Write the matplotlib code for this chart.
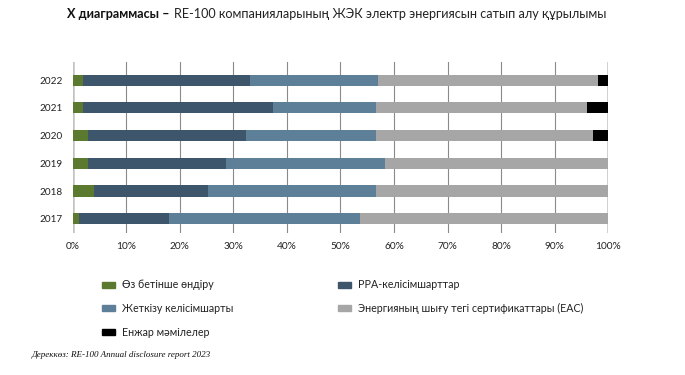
import matplotlib
matplotlib.use("Agg")
import matplotlib.pyplot as plt
from matplotlib.patches import Patch
import numpy as np

years = ["2017", "2018", "2019", "2020", "2021", "2022"]
own_gen = [1.1, 4.0, 2.8, 2.9, 1.9, 1.9]
ppa = [16.9, 21.2, 25.9, 29.5, 35.6, 31.3]
supply = [35.6, 31.4, 29.7, 24.2, 19.1, 23.9]
eac = [46.4, 43.4, 41.6, 40.6, 39.4, 41.0]
unbundled = [0.0, 0.0, 0.0, 2.8, 4.0, 1.9]

series_names = ["Өз бетінше өндіру", "PPA-келісімшарттар", "Жеткізу келісімшарты",
                "Энергияның шығу тегі сертификаттары (EAC)", "Енжар мәмілелер"]
colors = ["#5b7a2f", "#3e566b", "#5d7f98", "#a6a6a6", "#000000"]
x_ticks = [0, 10, 20, 30, 40, 50, 60, 70, 80, 90, 100]

plt.rcParams['font.family'] = ['Lato', 'DejaVu Sans']
fig = plt.figure(figsize=(6.85, 3.75), dpi=100)
ax = fig.add_axes([0.106, 0.379, 0.782, 0.456])

ypos = np.arange(len(years))
left = np.zeros(len(years))
data = [own_gen, ppa, supply, eac, unbundled]
for vals, c in zip(data, colors):
    vals = np.array(vals)
    ax.barh(ypos, vals, left=left, height=0.4, color=c, zorder=3)
    left += vals

ax.set_xlim(0, 100)
ax.set_ylim(-0.51, 5.66)
ax.set_yticks(ypos)
ax.set_yticklabels(years, fontsize=7.2, color="#222222")
ax.set_xticks(x_ticks)
ax.set_xticklabels([f"{t}%" for t in x_ticks], fontsize=7.3, color="#222222")
ax.tick_params(axis='x', length=0, pad=6.5)
ax.tick_params(axis='y', length=0, pad=7)
for s in ax.spines.values():
    s.set_visible(False)
for t in x_ticks:
    if t in (0, 100):
        ax.axvline(t, color="#c2c2c2", lw=1.8, zorder=2)
    else:
        ax.axvline(t, color="#8a8a8a", lw=0.8, zorder=2)

handles = [Patch(color=c) for c in colors]
leg_kw = dict(loc="upper left", frameon=False, fontsize=7.7, handlelength=1.25,
              handleheight=0.5, handletextpad=0.6, labelspacing=1.17,
              borderaxespad=0, borderpad=0)
col1 = [0, 2, 4]
col2 = [1, 3]
leg1 = fig.legend([handles[i] for i in col1], [series_names[i] for i in col1],
                  bbox_to_anchor=(102 / 685, 0.2547), **leg_kw)
leg2 = fig.legend([handles[i] for i in col2], [series_names[i] for i in col2],
                  bbox_to_anchor=(338 / 685, 0.2547), **leg_kw)
for lg in (leg1, leg2):
    for t in lg.get_texts():
        t.set_color("#222222")

t1 = fig.text(0.098, 0.962, "Х диаграммасы –", fontsize=9.1, fontweight="bold",
              color="#111111", va="center")
fig.canvas.draw()
bb = t1.get_window_extent()
x2 = (bb.x1 + 4) / fig.bbox.width
fig.text(x2, 0.962, "RE-100 компанияларының ЖЭК электр энергиясын сатып алу құрылымы",
         fontsize=9.1, color="#222222", va="center")
fig.text(0.046, 0.053, "Дереккөз: RE-100 Annual disclosure report 2023", fontsize=6.5,
         family=["Liberation Serif", "DejaVu Serif"], style="italic", color="#111111",
         va="center")

fig.savefig("out.png", dpi=100)
